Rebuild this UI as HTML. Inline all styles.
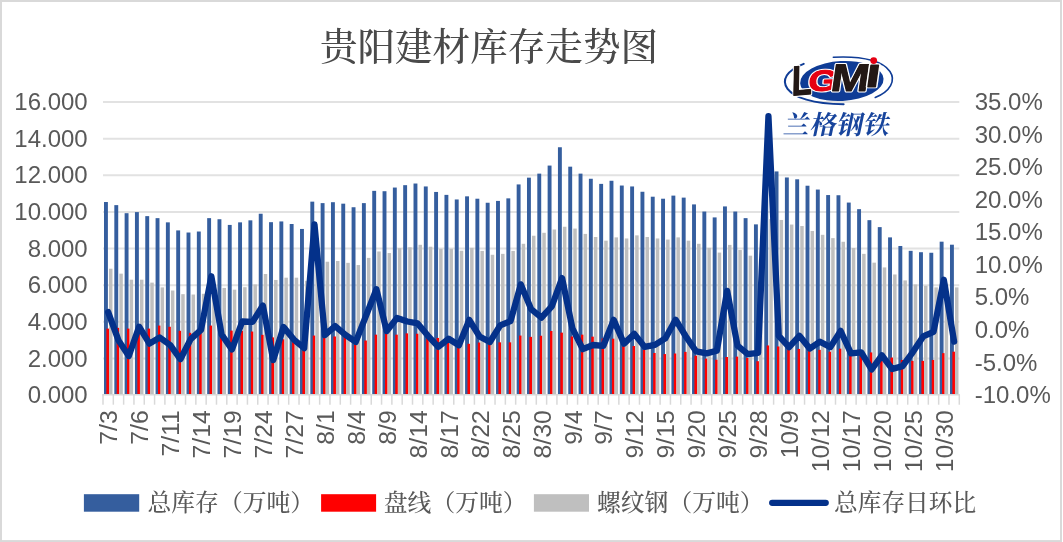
<!DOCTYPE html>
<html lang="zh"><head><meta charset="utf-8"><title>贵阳建材库存走势图</title>
<style>html,body{margin:0;padding:0;background:#fff}body{width:1063px;height:542px;overflow:hidden}svg{display:block}.a{font-family:"Liberation Sans",sans-serif;font-size:24px;fill:#595959}.c{font-family:"Noto Serif CJK SC","Liberation Serif",serif;fill:#595959}</style></head><body>
<svg width="1063" height="542" viewBox="0 0 1063 542">
<rect x="0" y="0" width="1063" height="542" fill="#fff"/>
<rect x="1" y="1" width="1060" height="540.1" fill="none" stroke="#D9D9D9" stroke-width="2"/>
<g stroke="#E2E2E2" stroke-width="2">
<line x1="103.0" y1="102.00" x2="959.3" y2="102.00"/>
<line x1="103.0" y1="138.64" x2="959.3" y2="138.64"/>
<line x1="103.0" y1="175.28" x2="959.3" y2="175.28"/>
<line x1="103.0" y1="211.91" x2="959.3" y2="211.91"/>
<line x1="103.0" y1="248.55" x2="959.3" y2="248.55"/>
<line x1="103.0" y1="285.19" x2="959.3" y2="285.19"/>
<line x1="103.0" y1="321.83" x2="959.3" y2="321.83"/>
<line x1="103.0" y1="358.46" x2="959.3" y2="358.46"/>
</g>
<g fill="#355E9E">
<rect x="104.00" y="202.02" width="3.90" height="192.08"/>
<rect x="114.32" y="205.13" width="3.90" height="188.97"/>
<rect x="124.63" y="213.19" width="3.90" height="180.91"/>
<rect x="134.95" y="212.10" width="3.90" height="182.00"/>
<rect x="145.27" y="216.13" width="3.90" height="177.97"/>
<rect x="155.58" y="218.14" width="3.90" height="175.96"/>
<rect x="165.90" y="222.35" width="3.90" height="171.75"/>
<rect x="176.22" y="230.41" width="3.90" height="163.69"/>
<rect x="186.53" y="232.52" width="3.90" height="161.58"/>
<rect x="196.85" y="231.51" width="3.90" height="162.59"/>
<rect x="207.17" y="218.14" width="3.90" height="175.96"/>
<rect x="217.49" y="219.24" width="3.90" height="174.86"/>
<rect x="227.80" y="224.92" width="3.90" height="169.18"/>
<rect x="238.12" y="222.35" width="3.90" height="171.75"/>
<rect x="248.44" y="220.34" width="3.90" height="173.76"/>
<rect x="258.75" y="213.74" width="3.90" height="180.36"/>
<rect x="269.07" y="222.17" width="3.90" height="171.93"/>
<rect x="279.39" y="221.44" width="3.90" height="172.66"/>
<rect x="289.70" y="224.00" width="3.90" height="170.10"/>
<rect x="300.02" y="228.95" width="3.90" height="165.15"/>
<rect x="310.34" y="201.65" width="3.90" height="192.45"/>
<rect x="320.65" y="203.12" width="3.90" height="190.98"/>
<rect x="330.97" y="202.20" width="3.90" height="191.90"/>
<rect x="341.29" y="203.67" width="3.90" height="190.43"/>
<rect x="351.60" y="207.24" width="3.90" height="186.86"/>
<rect x="361.92" y="203.12" width="3.90" height="190.98"/>
<rect x="372.24" y="190.85" width="3.90" height="203.25"/>
<rect x="382.56" y="191.21" width="3.90" height="202.89"/>
<rect x="392.87" y="187.55" width="3.90" height="206.55"/>
<rect x="403.19" y="185.17" width="3.90" height="208.93"/>
<rect x="413.51" y="183.52" width="3.90" height="210.58"/>
<rect x="423.82" y="186.45" width="3.90" height="207.65"/>
<rect x="434.14" y="191.95" width="3.90" height="202.15"/>
<rect x="444.46" y="194.88" width="3.90" height="199.22"/>
<rect x="454.77" y="199.46" width="3.90" height="194.64"/>
<rect x="465.09" y="196.34" width="3.90" height="197.76"/>
<rect x="475.41" y="198.72" width="3.90" height="195.38"/>
<rect x="485.72" y="202.75" width="3.90" height="191.35"/>
<rect x="496.04" y="200.92" width="3.90" height="193.18"/>
<rect x="506.36" y="198.36" width="3.90" height="195.74"/>
<rect x="516.67" y="184.43" width="3.90" height="209.67"/>
<rect x="526.99" y="177.66" width="3.90" height="216.44"/>
<rect x="537.31" y="173.63" width="3.90" height="220.47"/>
<rect x="547.63" y="165.57" width="3.90" height="228.53"/>
<rect x="557.94" y="147.25" width="3.90" height="246.85"/>
<rect x="568.26" y="166.67" width="3.90" height="227.43"/>
<rect x="578.58" y="173.63" width="3.90" height="220.47"/>
<rect x="588.89" y="178.76" width="3.90" height="215.34"/>
<rect x="599.21" y="183.88" width="3.90" height="210.22"/>
<rect x="609.53" y="180.77" width="3.90" height="213.33"/>
<rect x="619.84" y="185.53" width="3.90" height="208.57"/>
<rect x="630.16" y="186.45" width="3.90" height="207.65"/>
<rect x="640.48" y="191.76" width="3.90" height="202.34"/>
<rect x="650.79" y="196.71" width="3.90" height="197.39"/>
<rect x="661.11" y="198.72" width="3.90" height="195.38"/>
<rect x="671.43" y="195.61" width="3.90" height="198.49"/>
<rect x="681.74" y="197.62" width="3.90" height="196.48"/>
<rect x="692.06" y="204.40" width="3.90" height="189.70"/>
<rect x="702.38" y="211.55" width="3.90" height="182.55"/>
<rect x="712.70" y="217.41" width="3.90" height="176.69"/>
<rect x="723.01" y="206.42" width="3.90" height="187.68"/>
<rect x="733.33" y="211.55" width="3.90" height="182.55"/>
<rect x="743.65" y="218.14" width="3.90" height="175.96"/>
<rect x="753.96" y="224.37" width="3.90" height="169.73"/>
<rect x="764.28" y="169.41" width="3.90" height="224.69"/>
<rect x="774.60" y="171.43" width="3.90" height="222.67"/>
<rect x="784.91" y="177.47" width="3.90" height="216.63"/>
<rect x="795.23" y="179.31" width="3.90" height="214.79"/>
<rect x="805.55" y="185.72" width="3.90" height="208.38"/>
<rect x="815.86" y="189.56" width="3.90" height="204.54"/>
<rect x="826.18" y="195.06" width="3.90" height="199.04"/>
<rect x="836.50" y="195.24" width="3.90" height="198.86"/>
<rect x="846.81" y="202.57" width="3.90" height="191.53"/>
<rect x="857.13" y="209.16" width="3.90" height="184.94"/>
<rect x="867.45" y="220.16" width="3.90" height="173.94"/>
<rect x="877.77" y="227.12" width="3.90" height="166.98"/>
<rect x="888.08" y="237.38" width="3.90" height="156.72"/>
<rect x="898.40" y="245.99" width="3.90" height="148.11"/>
<rect x="908.72" y="250.84" width="3.90" height="143.26"/>
<rect x="919.03" y="252.21" width="3.90" height="141.89"/>
<rect x="929.35" y="252.76" width="3.90" height="141.34"/>
<rect x="939.67" y="241.68" width="3.90" height="152.42"/>
<rect x="949.98" y="244.70" width="3.90" height="149.40"/>
</g>
<g fill="#FF0000">
<rect x="106.40" y="328.60" width="2.60" height="65.50"/>
<rect x="116.72" y="327.87" width="2.60" height="66.23"/>
<rect x="127.03" y="328.60" width="2.60" height="65.50"/>
<rect x="137.35" y="327.50" width="2.60" height="66.60"/>
<rect x="147.67" y="328.60" width="2.60" height="65.50"/>
<rect x="157.98" y="325.58" width="2.60" height="68.52"/>
<rect x="168.30" y="326.77" width="2.60" height="67.33"/>
<rect x="178.62" y="330.80" width="2.60" height="63.30"/>
<rect x="188.93" y="332.82" width="2.60" height="61.28"/>
<rect x="199.25" y="333.00" width="2.60" height="61.10"/>
<rect x="209.57" y="325.58" width="2.60" height="68.52"/>
<rect x="219.89" y="326.40" width="2.60" height="67.70"/>
<rect x="230.20" y="330.62" width="2.60" height="63.48"/>
<rect x="240.52" y="330.80" width="2.60" height="63.30"/>
<rect x="250.84" y="331.53" width="2.60" height="62.57"/>
<rect x="261.15" y="334.83" width="2.60" height="59.27"/>
<rect x="271.47" y="337.40" width="2.60" height="56.70"/>
<rect x="281.79" y="339.23" width="2.60" height="54.87"/>
<rect x="292.10" y="341.43" width="2.60" height="52.67"/>
<rect x="302.42" y="343.26" width="2.60" height="50.84"/>
<rect x="312.74" y="335.56" width="2.60" height="58.54"/>
<rect x="323.05" y="336.48" width="2.60" height="57.62"/>
<rect x="333.37" y="336.48" width="2.60" height="57.62"/>
<rect x="343.69" y="336.11" width="2.60" height="57.99"/>
<rect x="354.00" y="337.30" width="2.60" height="56.80"/>
<rect x="364.32" y="340.51" width="2.60" height="53.59"/>
<rect x="374.64" y="334.65" width="2.60" height="59.45"/>
<rect x="384.96" y="333.73" width="2.60" height="60.37"/>
<rect x="395.27" y="334.65" width="2.60" height="59.45"/>
<rect x="405.59" y="333.37" width="2.60" height="60.73"/>
<rect x="415.91" y="333.73" width="2.60" height="60.37"/>
<rect x="426.22" y="334.83" width="2.60" height="59.27"/>
<rect x="436.54" y="337.95" width="2.60" height="56.15"/>
<rect x="446.86" y="341.24" width="2.60" height="52.86"/>
<rect x="457.17" y="343.81" width="2.60" height="50.29"/>
<rect x="467.49" y="343.81" width="2.60" height="50.29"/>
<rect x="477.81" y="342.53" width="2.60" height="51.57"/>
<rect x="488.12" y="343.44" width="2.60" height="50.66"/>
<rect x="498.44" y="342.34" width="2.60" height="51.76"/>
<rect x="508.76" y="342.34" width="2.60" height="51.76"/>
<rect x="519.07" y="335.56" width="2.60" height="58.54"/>
<rect x="529.39" y="336.85" width="2.60" height="57.25"/>
<rect x="539.71" y="335.75" width="2.60" height="58.35"/>
<rect x="550.03" y="330.98" width="2.60" height="63.12"/>
<rect x="560.34" y="332.63" width="2.60" height="61.47"/>
<rect x="570.66" y="336.48" width="2.60" height="57.62"/>
<rect x="580.98" y="334.65" width="2.60" height="59.45"/>
<rect x="591.29" y="336.66" width="2.60" height="57.44"/>
<rect x="601.61" y="338.50" width="2.60" height="55.60"/>
<rect x="611.93" y="338.68" width="2.60" height="55.42"/>
<rect x="622.24" y="342.16" width="2.60" height="51.94"/>
<rect x="632.56" y="346.01" width="2.60" height="48.09"/>
<rect x="642.88" y="349.85" width="2.60" height="44.25"/>
<rect x="653.19" y="352.97" width="2.60" height="41.13"/>
<rect x="663.51" y="354.07" width="2.60" height="40.03"/>
<rect x="673.83" y="353.52" width="2.60" height="40.58"/>
<rect x="684.14" y="351.87" width="2.60" height="42.23"/>
<rect x="694.46" y="355.62" width="2.60" height="38.48"/>
<rect x="704.78" y="358.65" width="2.60" height="35.45"/>
<rect x="715.10" y="359.74" width="2.60" height="34.36"/>
<rect x="725.41" y="357.00" width="2.60" height="37.10"/>
<rect x="735.73" y="356.63" width="2.60" height="37.47"/>
<rect x="746.05" y="357.91" width="2.60" height="36.19"/>
<rect x="756.36" y="361.21" width="2.60" height="32.89"/>
<rect x="766.68" y="345.46" width="2.60" height="48.64"/>
<rect x="777.00" y="346.46" width="2.60" height="47.64"/>
<rect x="787.31" y="348.39" width="2.60" height="45.71"/>
<rect x="797.63" y="348.94" width="2.60" height="45.16"/>
<rect x="807.95" y="350.22" width="2.60" height="43.88"/>
<rect x="818.26" y="349.85" width="2.60" height="44.25"/>
<rect x="828.58" y="351.68" width="2.60" height="42.42"/>
<rect x="838.90" y="348.66" width="2.60" height="45.44"/>
<rect x="849.21" y="349.67" width="2.60" height="44.43"/>
<rect x="859.53" y="350.40" width="2.60" height="43.70"/>
<rect x="869.85" y="352.42" width="2.60" height="41.68"/>
<rect x="880.17" y="354.80" width="2.60" height="39.30"/>
<rect x="890.48" y="357.55" width="2.60" height="36.55"/>
<rect x="900.80" y="359.93" width="2.60" height="34.17"/>
<rect x="911.12" y="360.84" width="2.60" height="33.26"/>
<rect x="921.43" y="360.84" width="2.60" height="33.26"/>
<rect x="931.75" y="359.93" width="2.60" height="34.17"/>
<rect x="942.07" y="353.15" width="2.60" height="40.95"/>
<rect x="952.38" y="351.68" width="2.60" height="42.42"/>
</g>
<g fill="#BFBFBF">
<rect x="109.00" y="268.70" width="3.50" height="125.40"/>
<rect x="119.32" y="273.65" width="3.50" height="120.45"/>
<rect x="129.63" y="279.69" width="3.50" height="114.41"/>
<rect x="139.95" y="279.69" width="3.50" height="114.41"/>
<rect x="150.27" y="282.62" width="3.50" height="111.48"/>
<rect x="160.58" y="287.39" width="3.50" height="106.71"/>
<rect x="170.90" y="290.50" width="3.50" height="103.60"/>
<rect x="181.22" y="294.16" width="3.50" height="99.94"/>
<rect x="191.53" y="294.53" width="3.50" height="99.57"/>
<rect x="201.85" y="293.80" width="3.50" height="100.30"/>
<rect x="212.17" y="287.66" width="3.50" height="106.44"/>
<rect x="222.49" y="287.94" width="3.50" height="106.16"/>
<rect x="232.80" y="289.68" width="3.50" height="104.42"/>
<rect x="243.12" y="287.20" width="3.50" height="106.90"/>
<rect x="253.44" y="284.45" width="3.50" height="109.65"/>
<rect x="263.75" y="274.01" width="3.50" height="120.09"/>
<rect x="274.07" y="279.97" width="3.50" height="114.13"/>
<rect x="284.39" y="277.68" width="3.50" height="116.42"/>
<rect x="294.70" y="277.68" width="3.50" height="116.42"/>
<rect x="305.02" y="280.79" width="3.50" height="113.31"/>
<rect x="315.34" y="261.56" width="3.50" height="132.54"/>
<rect x="325.65" y="261.74" width="3.50" height="132.36"/>
<rect x="335.97" y="261.01" width="3.50" height="133.09"/>
<rect x="346.29" y="262.84" width="3.50" height="131.26"/>
<rect x="356.60" y="265.04" width="3.50" height="129.06"/>
<rect x="366.92" y="257.89" width="3.50" height="136.21"/>
<rect x="377.24" y="251.48" width="3.50" height="142.62"/>
<rect x="387.56" y="253.04" width="3.50" height="141.06"/>
<rect x="397.87" y="248.18" width="3.50" height="145.92"/>
<rect x="408.19" y="247.27" width="3.50" height="146.83"/>
<rect x="418.51" y="244.79" width="3.50" height="149.31"/>
<rect x="428.82" y="246.72" width="3.50" height="147.38"/>
<rect x="439.14" y="248.73" width="3.50" height="145.37"/>
<rect x="449.46" y="248.73" width="3.50" height="145.37"/>
<rect x="459.77" y="250.75" width="3.50" height="143.35"/>
<rect x="470.09" y="247.82" width="3.50" height="146.28"/>
<rect x="480.41" y="250.93" width="3.50" height="143.17"/>
<rect x="490.72" y="254.78" width="3.50" height="139.32"/>
<rect x="501.04" y="253.86" width="3.50" height="140.24"/>
<rect x="511.36" y="250.93" width="3.50" height="143.17"/>
<rect x="521.67" y="243.79" width="3.50" height="150.31"/>
<rect x="531.99" y="235.73" width="3.50" height="158.37"/>
<rect x="542.31" y="232.80" width="3.50" height="161.30"/>
<rect x="552.63" y="229.50" width="3.50" height="164.60"/>
<rect x="562.94" y="226.75" width="3.50" height="167.35"/>
<rect x="573.26" y="228.58" width="3.50" height="165.52"/>
<rect x="583.58" y="233.90" width="3.50" height="160.21"/>
<rect x="593.89" y="237.01" width="3.50" height="157.09"/>
<rect x="604.21" y="240.67" width="3.50" height="153.43"/>
<rect x="614.53" y="237.38" width="3.50" height="156.72"/>
<rect x="624.84" y="238.47" width="3.50" height="155.63"/>
<rect x="635.16" y="235.36" width="3.50" height="158.74"/>
<rect x="645.48" y="237.01" width="3.50" height="157.09"/>
<rect x="655.79" y="238.47" width="3.50" height="155.63"/>
<rect x="666.11" y="239.57" width="3.50" height="154.53"/>
<rect x="676.43" y="237.38" width="3.50" height="156.72"/>
<rect x="686.74" y="240.67" width="3.50" height="153.43"/>
<rect x="697.06" y="243.79" width="3.50" height="150.31"/>
<rect x="707.38" y="247.82" width="3.50" height="146.28"/>
<rect x="717.70" y="252.58" width="3.50" height="141.52"/>
<rect x="728.01" y="244.89" width="3.50" height="149.21"/>
<rect x="738.33" y="250.02" width="3.50" height="144.08"/>
<rect x="748.65" y="255.69" width="3.50" height="138.41"/>
<rect x="758.96" y="258.81" width="3.50" height="135.29"/>
<rect x="769.28" y="219.06" width="3.50" height="175.04"/>
<rect x="779.60" y="219.97" width="3.50" height="174.13"/>
<rect x="789.91" y="224.55" width="3.50" height="169.55"/>
<rect x="800.23" y="226.02" width="3.50" height="168.08"/>
<rect x="810.55" y="230.96" width="3.50" height="163.14"/>
<rect x="820.86" y="234.81" width="3.50" height="159.29"/>
<rect x="831.18" y="238.11" width="3.50" height="155.99"/>
<rect x="841.50" y="241.77" width="3.50" height="152.33"/>
<rect x="851.81" y="248.00" width="3.50" height="146.10"/>
<rect x="862.13" y="253.86" width="3.50" height="140.24"/>
<rect x="872.45" y="262.66" width="3.50" height="131.44"/>
<rect x="882.77" y="267.42" width="3.50" height="126.68"/>
<rect x="893.08" y="274.47" width="3.50" height="119.63"/>
<rect x="903.40" y="280.42" width="3.50" height="113.68"/>
<rect x="913.72" y="284.45" width="3.50" height="109.65"/>
<rect x="924.03" y="285.74" width="3.50" height="108.36"/>
<rect x="934.35" y="287.39" width="3.50" height="106.71"/>
<rect x="944.67" y="283.63" width="3.50" height="110.47"/>
<rect x="954.98" y="287.39" width="3.50" height="106.71"/>
</g>
<g stroke="#D9D9D9" stroke-width="1.5">
<line x1="102.2" y1="394.85" x2="959.8" y2="394.85"/>
<line x1="103.00" y1="394.5" x2="103.00" y2="404.7"/>
<line x1="113.32" y1="394.5" x2="113.32" y2="404.7"/>
<line x1="123.63" y1="394.5" x2="123.63" y2="404.7"/>
<line x1="133.95" y1="394.5" x2="133.95" y2="404.7"/>
<line x1="144.27" y1="394.5" x2="144.27" y2="404.7"/>
<line x1="154.58" y1="394.5" x2="154.58" y2="404.7"/>
<line x1="164.90" y1="394.5" x2="164.90" y2="404.7"/>
<line x1="175.22" y1="394.5" x2="175.22" y2="404.7"/>
<line x1="185.53" y1="394.5" x2="185.53" y2="404.7"/>
<line x1="195.85" y1="394.5" x2="195.85" y2="404.7"/>
<line x1="206.17" y1="394.5" x2="206.17" y2="404.7"/>
<line x1="216.49" y1="394.5" x2="216.49" y2="404.7"/>
<line x1="226.80" y1="394.5" x2="226.80" y2="404.7"/>
<line x1="237.12" y1="394.5" x2="237.12" y2="404.7"/>
<line x1="247.44" y1="394.5" x2="247.44" y2="404.7"/>
<line x1="257.75" y1="394.5" x2="257.75" y2="404.7"/>
<line x1="268.07" y1="394.5" x2="268.07" y2="404.7"/>
<line x1="278.39" y1="394.5" x2="278.39" y2="404.7"/>
<line x1="288.70" y1="394.5" x2="288.70" y2="404.7"/>
<line x1="299.02" y1="394.5" x2="299.02" y2="404.7"/>
<line x1="309.34" y1="394.5" x2="309.34" y2="404.7"/>
<line x1="319.65" y1="394.5" x2="319.65" y2="404.7"/>
<line x1="329.97" y1="394.5" x2="329.97" y2="404.7"/>
<line x1="340.29" y1="394.5" x2="340.29" y2="404.7"/>
<line x1="350.60" y1="394.5" x2="350.60" y2="404.7"/>
<line x1="360.92" y1="394.5" x2="360.92" y2="404.7"/>
<line x1="371.24" y1="394.5" x2="371.24" y2="404.7"/>
<line x1="381.56" y1="394.5" x2="381.56" y2="404.7"/>
<line x1="391.87" y1="394.5" x2="391.87" y2="404.7"/>
<line x1="402.19" y1="394.5" x2="402.19" y2="404.7"/>
<line x1="412.51" y1="394.5" x2="412.51" y2="404.7"/>
<line x1="422.82" y1="394.5" x2="422.82" y2="404.7"/>
<line x1="433.14" y1="394.5" x2="433.14" y2="404.7"/>
<line x1="443.46" y1="394.5" x2="443.46" y2="404.7"/>
<line x1="453.77" y1="394.5" x2="453.77" y2="404.7"/>
<line x1="464.09" y1="394.5" x2="464.09" y2="404.7"/>
<line x1="474.41" y1="394.5" x2="474.41" y2="404.7"/>
<line x1="484.72" y1="394.5" x2="484.72" y2="404.7"/>
<line x1="495.04" y1="394.5" x2="495.04" y2="404.7"/>
<line x1="505.36" y1="394.5" x2="505.36" y2="404.7"/>
<line x1="515.67" y1="394.5" x2="515.67" y2="404.7"/>
<line x1="525.99" y1="394.5" x2="525.99" y2="404.7"/>
<line x1="536.31" y1="394.5" x2="536.31" y2="404.7"/>
<line x1="546.63" y1="394.5" x2="546.63" y2="404.7"/>
<line x1="556.94" y1="394.5" x2="556.94" y2="404.7"/>
<line x1="567.26" y1="394.5" x2="567.26" y2="404.7"/>
<line x1="577.58" y1="394.5" x2="577.58" y2="404.7"/>
<line x1="587.89" y1="394.5" x2="587.89" y2="404.7"/>
<line x1="598.21" y1="394.5" x2="598.21" y2="404.7"/>
<line x1="608.53" y1="394.5" x2="608.53" y2="404.7"/>
<line x1="618.84" y1="394.5" x2="618.84" y2="404.7"/>
<line x1="629.16" y1="394.5" x2="629.16" y2="404.7"/>
<line x1="639.48" y1="394.5" x2="639.48" y2="404.7"/>
<line x1="649.79" y1="394.5" x2="649.79" y2="404.7"/>
<line x1="660.11" y1="394.5" x2="660.11" y2="404.7"/>
<line x1="670.43" y1="394.5" x2="670.43" y2="404.7"/>
<line x1="680.74" y1="394.5" x2="680.74" y2="404.7"/>
<line x1="691.06" y1="394.5" x2="691.06" y2="404.7"/>
<line x1="701.38" y1="394.5" x2="701.38" y2="404.7"/>
<line x1="711.70" y1="394.5" x2="711.70" y2="404.7"/>
<line x1="722.01" y1="394.5" x2="722.01" y2="404.7"/>
<line x1="732.33" y1="394.5" x2="732.33" y2="404.7"/>
<line x1="742.65" y1="394.5" x2="742.65" y2="404.7"/>
<line x1="752.96" y1="394.5" x2="752.96" y2="404.7"/>
<line x1="763.28" y1="394.5" x2="763.28" y2="404.7"/>
<line x1="773.60" y1="394.5" x2="773.60" y2="404.7"/>
<line x1="783.91" y1="394.5" x2="783.91" y2="404.7"/>
<line x1="794.23" y1="394.5" x2="794.23" y2="404.7"/>
<line x1="804.55" y1="394.5" x2="804.55" y2="404.7"/>
<line x1="814.86" y1="394.5" x2="814.86" y2="404.7"/>
<line x1="825.18" y1="394.5" x2="825.18" y2="404.7"/>
<line x1="835.50" y1="394.5" x2="835.50" y2="404.7"/>
<line x1="845.81" y1="394.5" x2="845.81" y2="404.7"/>
<line x1="856.13" y1="394.5" x2="856.13" y2="404.7"/>
<line x1="866.45" y1="394.5" x2="866.45" y2="404.7"/>
<line x1="876.77" y1="394.5" x2="876.77" y2="404.7"/>
<line x1="887.08" y1="394.5" x2="887.08" y2="404.7"/>
<line x1="897.40" y1="394.5" x2="897.40" y2="404.7"/>
<line x1="907.72" y1="394.5" x2="907.72" y2="404.7"/>
<line x1="918.03" y1="394.5" x2="918.03" y2="404.7"/>
<line x1="928.35" y1="394.5" x2="928.35" y2="404.7"/>
<line x1="938.67" y1="394.5" x2="938.67" y2="404.7"/>
<line x1="948.98" y1="394.5" x2="948.98" y2="404.7"/>
<line x1="959.30" y1="394.5" x2="959.30" y2="404.7"/>
</g>
<polyline points="108.16,312.12 118.48,340.39 128.79,356.02 139.11,326.71 149.43,343.64 159.74,337.46 170.06,344.95 180.38,359.28 190.69,339.09 201.01,329.97 211.33,276.23 221.64,334.53 231.96,349.51 242.28,321.50 252.59,321.83 262.91,305.54 273.23,360.12 283.55,327.04 293.86,339.61 304.18,348.20 314.50,224.45 324.81,335.18 335.13,326.06 345.45,334.92 355.76,341.89 366.08,315.70 376.40,289.26 386.71,331.14 397.03,317.92 407.35,321.50 417.66,323.45 427.98,335.83 438.30,346.90 448.62,338.76 458.93,345.27 469.25,319.87 479.57,336.48 489.88,342.02 500.20,325.41 510.52,321.17 520.83,284.37 531.15,309.12 541.47,317.59 551.78,306.39 562.10,278.12 572.42,328.34 582.73,349.18 593.05,345.01 603.37,345.92 613.68,319.87 624.00,343.64 634.32,333.87 644.64,346.90 654.95,344.95 665.27,338.43 675.59,319.68 685.90,336.48 696.22,351.46 706.54,353.41 716.85,350.81 727.17,290.89 737.49,345.60 747.80,354.07 758.12,352.76 768.44,116.07 778.75,335.83 789.07,347.23 799.39,335.83 809.71,348.53 820.02,341.69 830.34,347.10 840.66,330.94 850.97,353.41 861.29,352.31 871.61,369.50 881.92,355.37 892.24,369.05 902.56,366.12 912.87,352.11 923.19,336.48 933.51,331.92 943.82,279.81 954.14,341.69" fill="none" stroke="#04318A" stroke-width="6.3" stroke-linejoin="round" stroke-linecap="round"/>
<g class="a" text-anchor="end">
<text x="87.7" y="110.0">16.000</text>
<text x="87.7" y="146.6">14.000</text>
<text x="87.7" y="183.3">12.000</text>
<text x="87.7" y="219.9">10.000</text>
<text x="87.7" y="256.6">8.000</text>
<text x="87.7" y="293.2">6.000</text>
<text x="87.7" y="329.8">4.000</text>
<text x="87.7" y="366.5">2.000</text>
<text x="87.7" y="403.1">0.000</text>
</g>
<g class="a">
<text x="974.7" y="110.0">35.0%</text>
<text x="974.7" y="142.6">30.0%</text>
<text x="974.7" y="175.1">25.0%</text>
<text x="974.7" y="207.7">20.0%</text>
<text x="974.7" y="240.3">15.0%</text>
<text x="974.7" y="272.8">10.0%</text>
<text x="974.7" y="305.4">5.0%</text>
<text x="974.7" y="338.0">0.0%</text>
<text x="974.7" y="370.5">-5.0%</text>
<text x="974.7" y="403.1">-10.0%</text>
</g>
<g class="a" text-anchor="end" style="font-size:24.8px">
<text transform="translate(117.26,410.2) rotate(-90)" x="0" y="0">7/3</text>
<text transform="translate(148.21,410.2) rotate(-90)" x="0" y="0">7/6</text>
<text transform="translate(179.16,410.2) rotate(-90)" x="0" y="0">7/11</text>
<text transform="translate(210.11,410.2) rotate(-90)" x="0" y="0">7/14</text>
<text transform="translate(241.06,410.2) rotate(-90)" x="0" y="0">7/19</text>
<text transform="translate(272.01,410.2) rotate(-90)" x="0" y="0">7/24</text>
<text transform="translate(302.96,410.2) rotate(-90)" x="0" y="0">7/27</text>
<text transform="translate(333.91,410.2) rotate(-90)" x="0" y="0">8/1</text>
<text transform="translate(364.86,410.2) rotate(-90)" x="0" y="0">8/4</text>
<text transform="translate(395.81,410.2) rotate(-90)" x="0" y="0">8/9</text>
<text transform="translate(426.76,410.2) rotate(-90)" x="0" y="0">8/14</text>
<text transform="translate(457.72,410.2) rotate(-90)" x="0" y="0">8/17</text>
<text transform="translate(488.67,410.2) rotate(-90)" x="0" y="0">8/22</text>
<text transform="translate(519.62,410.2) rotate(-90)" x="0" y="0">8/25</text>
<text transform="translate(550.57,410.2) rotate(-90)" x="0" y="0">8/30</text>
<text transform="translate(581.52,410.2) rotate(-90)" x="0" y="0">9/4</text>
<text transform="translate(612.47,410.2) rotate(-90)" x="0" y="0">9/7</text>
<text transform="translate(643.42,410.2) rotate(-90)" x="0" y="0">9/12</text>
<text transform="translate(674.37,410.2) rotate(-90)" x="0" y="0">9/15</text>
<text transform="translate(705.32,410.2) rotate(-90)" x="0" y="0">9/20</text>
<text transform="translate(736.27,410.2) rotate(-90)" x="0" y="0">9/25</text>
<text transform="translate(767.22,410.2) rotate(-90)" x="0" y="0">9/28</text>
<text transform="translate(798.17,410.2) rotate(-90)" x="0" y="0">10/9</text>
<text transform="translate(829.12,410.2) rotate(-90)" x="0" y="0">10/12</text>
<text transform="translate(860.07,410.2) rotate(-90)" x="0" y="0">10/17</text>
<text transform="translate(891.02,410.2) rotate(-90)" x="0" y="0">10/20</text>
<text transform="translate(921.97,410.2) rotate(-90)" x="0" y="0">10/25</text>
<text transform="translate(952.92,410.2) rotate(-90)" x="0" y="0">10/30</text>
</g>
<text class="c" x="489" y="60.2" text-anchor="middle" font-size="37.6" font-weight="500" style="fill:#4a4a4a">贵阳建材库存走势图</text>
<rect x="83.9" y="494.2" width="55.3" height="17.5" fill="#355E9E"/>
<text class="c" x="147.5" y="510.8" font-size="23.8" font-weight="500">总库存（万吨）</text>
<rect x="321.1" y="494.2" width="55.0" height="17.5" fill="#FF0000"/>
<text class="c" x="383.8" y="510.8" font-size="23.8" font-weight="500">盘线（万吨）</text>
<rect x="533.9" y="494.2" width="55.1" height="17.5" fill="#BFBFBF"/>
<text class="c" x="597" y="510.8" font-size="23.8" font-weight="500">螺纹钢（万吨）</text>
<line x1="772.2" y1="502.8" x2="825.7" y2="502.8" stroke="#04318A" stroke-width="6.3" stroke-linecap="round"/>
<text class="c" x="834" y="510.8" font-size="23.7" font-weight="500">总库存日环比</text>
<g>
<g transform="rotate(-4 838 81)" fill="none" stroke="#0F3C96" stroke-linecap="round">
<path d="M 805 61.5 C 770 72, 780 100, 842 104.5" stroke-width="2"/>
<path d="M 835 57 C 900 58, 905 90, 874 100" stroke-width="1.6"/>
</g>
<ellipse cx="841.8" cy="81" rx="41.8" ry="20" fill="#0F3C96" transform="rotate(-3 841.8 81)"/>
<text transform="translate(791.60,95.80) rotate(-5) skewX(-6) scale(0.800,1)" style='font-family:&quot;Liberation Sans&quot;,sans-serif;font-weight:bold;paint-order:stroke;stroke:#fff;stroke-width:3.3;stroke-linejoin:round' font-size="41.86" fill="#231815">L</text>
<text transform="translate(791.60,95.80) rotate(-5) skewX(-6) scale(0.800,1)" style='font-family:&quot;Liberation Sans&quot;,sans-serif;font-weight:bold;stroke:#231815;stroke-width:0.9;stroke-linejoin:round' font-size="41.86" fill="#231815" aria-hidden="true">L</text>
<text transform="translate(807.60,91.20) rotate(-2) skewX(-8) scale(1.300,1)" style='font-family:&quot;Liberation Sans&quot;,sans-serif;font-weight:bold;paint-order:stroke;stroke:#fff;stroke-width:2.9;stroke-linejoin:round' font-size="29.30" fill="#E60012">G</text>
<text transform="translate(807.60,91.20) rotate(-2) skewX(-8) scale(1.300,1)" style='font-family:&quot;Liberation Sans&quot;,sans-serif;font-weight:bold;stroke:#E60012;stroke-width:0.9;stroke-linejoin:round' font-size="29.30" fill="#E60012" aria-hidden="true">G</text>
<text transform="translate(829.60,90.60) rotate(0) skewX(-8) scale(1.203,1)" style='font-family:&quot;Liberation Sans&quot;,sans-serif;font-weight:bold;paint-order:stroke;stroke:#fff;stroke-width:2.9;stroke-linejoin:round' font-size="38.50" fill="#231815">M</text>
<text transform="translate(829.60,90.60) rotate(0) skewX(-8) scale(1.203,1)" style='font-family:&quot;Liberation Sans&quot;,sans-serif;font-weight:bold;stroke:#231815;stroke-width:0.9;stroke-linejoin:round' font-size="38.50" fill="#231815" aria-hidden="true">M</text>
<text transform="translate(864.60,86.60) rotate(0) skewX(-8) scale(1.600,1)" style='font-family:&quot;Liberation Sans&quot;,sans-serif;font-weight:bold;paint-order:stroke;stroke:#fff;stroke-width:2.7;stroke-linejoin:round' font-size="32.10" fill="#231815">I</text>
<text transform="translate(864.60,86.60) rotate(0) skewX(-8) scale(1.600,1)" style='font-family:&quot;Liberation Sans&quot;,sans-serif;font-weight:bold;stroke:#231815;stroke-width:0.9;stroke-linejoin:round' font-size="32.10" fill="#231815" aria-hidden="true">I</text>
<circle cx="873.7" cy="60.6" r="3.4" fill="#E60012"/>
<text transform="translate(782.5,134.3) skewX(-12)" font-family="&quot;Noto Serif CJK SC&quot;,&quot;Liberation Serif&quot;,serif" font-weight="700" font-size="26" fill="#17449C" textLength="106" lengthAdjust="spacing">兰格钢铁</text>
</g>
</svg></body></html>
